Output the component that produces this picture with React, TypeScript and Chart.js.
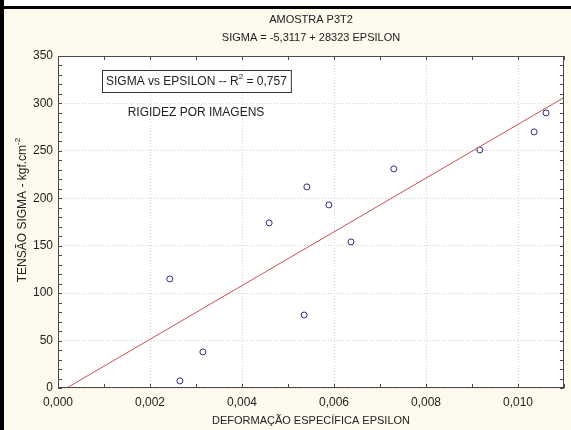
import React, { useEffect, useRef } from "react";
import { Chart, registerables } from "chart.js";

Chart.register(...registerables);

// ---- Data ----
const epsilon = [0.00243, 0.00265, 0.00315, 0.00459, 0.00535, 0.00541, 0.00589, 0.00637, 0.0073, 0.00917, 0.01035, 0.01061];
const sigma = [115, 7.5, 38, 174, 77, 212, 193, 154, 231, 251, 270, 290];
const fitIntercept = -5.3117;
const fitSlope = 28323;
const fitX = [0, 0.011];

const titleLine1 = "AMOSTRA P3T2";
const titleLine2 = "SIGMA = -5,3117 + 28323 EPSILON";
const xTitle = "DEFORMAÇÃO ESPECÍFICA EPSILON";
const yTitleMain = "TENSÃO SIGMA - kgf.cm";
const yTitleSup = "-2";
const legendMain = "SIGMA vs EPSILON -- R";
const legendSup = "2";
const legendTail = " = 0,757";
const note = "RIGIDEZ POR IMAGENS";

const FONT = '"Liberation Sans", Arial, sans-serif';

const decorPlugin = {
  id: "decor",
  beforeDraw(chart: any) {
    const { ctx, chartArea } = chart;
    ctx.save();
    ctx.fillStyle = "#ffffff";
    ctx.fillRect(0, 0, chart.width, chart.height);
    ctx.fillStyle = "#fdf9ec";
    ctx.fillRect(0, 7, chart.width, chart.height - 7);
    ctx.fillStyle = "#000000";
    ctx.fillRect(0, 6, chart.width, 3);
    ctx.fillRect(0, 0, 4, chart.height);
    ctx.fillStyle = "#ffffff";
    ctx.fillRect(chartArea.left, chartArea.top, chartArea.right - chartArea.left, chartArea.bottom - chartArea.top);
    ctx.restore();
  },
  afterDraw(chart: any) {
    const { ctx, chartArea } = chart;
    const xs = chart.scales.x;
    const ys = chart.scales.y;
    ctx.save();
    // frame
    ctx.strokeStyle = "#4a4a4a";
    ctx.lineWidth = 1;
    ctx.strokeRect(chartArea.left + 0.5, chartArea.top + 0.5, chartArea.right - chartArea.left - 1, chartArea.bottom - chartArea.top - 1);
    // minor ticks
    ctx.beginPath();
    for (let v = 0; v <= 350; v += 10) {
      const y = Math.round(ys.getPixelForValue(v)) + 0.5;
      ctx.moveTo(chartArea.left, y);
      ctx.lineTo(chartArea.left + 4, y);
      ctx.moveTo(chartArea.right, y);
      ctx.lineTo(chartArea.right - 4, y);
    }
    for (let i = 0; i <= 11; i++) {
      const x = Math.round(xs.getPixelForValue(i * 0.001)) + 0.5;
      ctx.moveTo(x, chartArea.bottom);
      ctx.lineTo(x, chartArea.bottom - 4);
      ctx.moveTo(x, chartArea.top);
      ctx.lineTo(x, chartArea.top + 4);
    }
    ctx.stroke();

    ctx.fillStyle = "#222222";
    ctx.textBaseline = "middle";
    ctx.textAlign = "center";
    ctx.font = `11px ${FONT}`;
    const cx = (chartArea.left + chartArea.right) / 2;
    ctx.fillText(titleLine1, cx, 20);
    ctx.fillText(titleLine2, cx, 38);
    ctx.fillText(xTitle, cx, 421);

    // y title with superscript
    ctx.save();
    ctx.translate(23, 210);
    ctx.rotate(-Math.PI / 2);
    ctx.font = `12px ${FONT}`;
    const wMain = ctx.measureText(yTitleMain).width;
    ctx.font = `8px ${FONT}`;
    const wSup = ctx.measureText(yTitleSup).width;
    const startX = -(wMain + wSup) / 2;
    ctx.textAlign = "left";
    ctx.font = `12px ${FONT}`;
    ctx.fillText(yTitleMain, startX, 0);
    ctx.font = `8px ${FONT}`;
    ctx.fillText(yTitleSup, startX + wMain, -5);
    ctx.restore();

    // legend box
    ctx.textAlign = "left";
    ctx.font = `12px ${FONT}`;
    const w1 = ctx.measureText(legendMain).width;
    ctx.font = `8px ${FONT}`;
    const w2 = ctx.measureText(legendSup).width;
    ctx.font = `12px ${FONT}`;
    const w3 = ctx.measureText(legendTail).width;
    const bx = 102;
    const by = 70;
    const bw = w1 + w2 + w3 + 8;
    const bh = 22;
    ctx.fillStyle = "#ffffff";
    ctx.fillRect(bx, by, bw, bh);
    ctx.strokeStyle = "#333333";
    ctx.strokeRect(bx + 0.5, by + 0.5, bw, bh);
    ctx.fillStyle = "#222222";
    const ty = by + bh / 2 + 1;
    ctx.fillText(legendMain, bx + 4, ty);
    ctx.font = `8px ${FONT}`;
    ctx.fillText(legendSup, bx + 4 + w1, ty - 5);
    ctx.font = `12px ${FONT}`;
    ctx.fillText(legendTail, bx + 4 + w1 + w2, ty);

    ctx.textAlign = "center";
    ctx.fillText(note, 196, 113);
    ctx.restore();
  },
};

export default function App() {
  const ref = useRef<HTMLCanvasElement | null>(null);
  useEffect(() => {
    if (!ref.current) return;
    const points = epsilon.map((e, i) => ({ x: e, y: sigma[i] }));
    const fitLine = fitX.map((e) => ({ x: e, y: fitIntercept + fitSlope * e }));
    const chart = new Chart(ref.current, {
      type: "scatter",
      data: {
        datasets: [
          {
            type: "line",
            data: fitLine,
            borderColor: "#c85050",
            borderWidth: 1,
            pointRadius: 0,
            fill: false,
          },
          {
            data: points,
            pointStyle: "circle",
            pointRadius: 3,
            pointBorderWidth: 1,
            pointBorderColor: "#2d2d86",
            pointBackgroundColor: "rgba(0,0,0,0)",
          },
        ],
      },
      options: {
        animation: false,
        responsive: false,
        devicePixelRatio: 1,
        layout: { padding: { left: 0, top: 56, right: 7, bottom: 0 } },
        plugins: { legend: { display: false }, tooltip: { enabled: false }, title: { display: false } },
        scales: {
          x: {
            type: "linear",
            min: 0,
            max: 0.011,
            afterFit: (s: any) => {
              s.height = 42;
            },
            border: { display: false, dash: [1, 2] },
            grid: {
              color: "#d0d0d0",
              lineWidth: 1,
              drawTicks: false,
            },
            ticks: {
              stepSize: 0.002,
              includeBounds: false,
              padding: 7,
              color: "#222222",
              font: { family: FONT, size: 12 },
              callback: (v: any) => Number(v).toFixed(3).replace(".", ","),
            },
          },
          y: {
            type: "linear",
            min: 0,
            max: 350,
            afterFit: (s: any) => {
              s.width = 58;
            },
            border: { display: false, dash: [1, 2] },
            grid: {
              color: "#d0d0d0",
              lineWidth: 1,
              drawTicks: false,
            },
            ticks: {
              stepSize: 50,
              padding: 5,
              color: "#222222",
              font: { family: FONT, size: 12 },
            },
          },
        },
      },
      plugins: [decorPlugin],
    } as any);
    return () => chart.destroy();
  }, []);
  return (
    <div style={{ position: "fixed", left: 0, top: 0, width: 571, height: 430 }}>
      <canvas ref={ref} width={571} height={430} style={{ width: 571, height: 430, display: "block" }} />
    </div>
  );
}
